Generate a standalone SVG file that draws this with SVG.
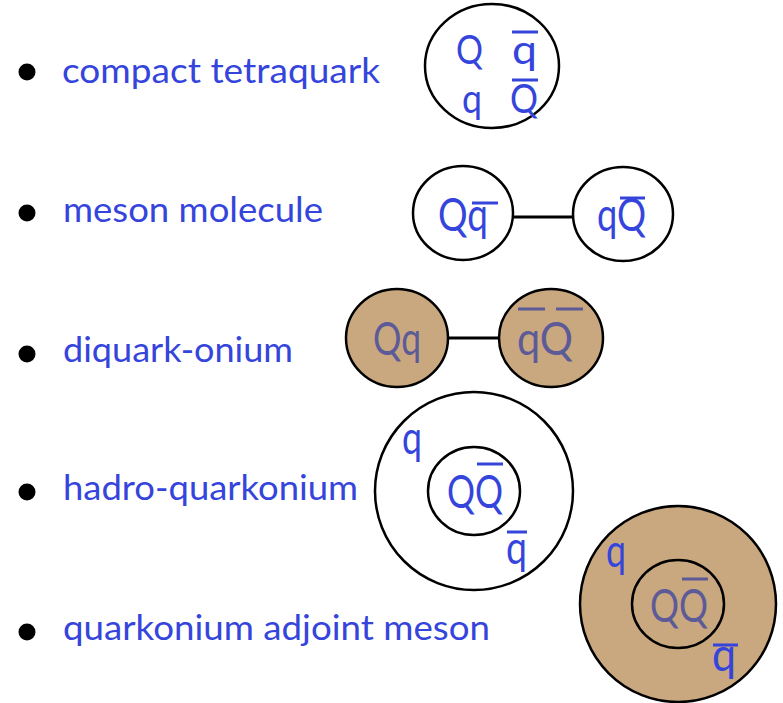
<svg xmlns="http://www.w3.org/2000/svg" width="783" height="703" viewBox="0 0 783 703">
<style>
.lbl{font-family:Lato,"Liberation Sans",sans-serif;font-size:34px;fill:#3545dc}
.qk{font-family:Lato,"Liberation Sans",sans-serif;font-size:47px;fill:#3545dc}
.qd{font-family:Lato,"Liberation Sans",sans-serif;font-size:47px;fill:#5d5a98}
.tq{font-size:41px}
.c{fill:#fff;stroke:#000;stroke-width:2.5}
.t{fill:#c9a87f;stroke:#000;stroke-width:2.5}
.ob{stroke:#3545dc;stroke-width:3}
.od{stroke:#5d5a98;stroke-width:3}
.ln{stroke:#000;stroke-width:3}
</style>
<rect width="783" height="703" fill="#fff"/>
<g id="bullets" fill="#000">
<circle cx="27" cy="72" r="8.5"/>
<circle cx="27" cy="213" r="8.5"/>
<circle cx="27" cy="354" r="8.5"/>
<circle cx="27" cy="492" r="8.5"/>
<circle cx="27" cy="632" r="8.5"/>
</g>
<g id="labels">
<text class="lbl" x="62" y="83" textLength="318" lengthAdjust="spacingAndGlyphs">compact tetraquark</text>
<text class="lbl" x="63" y="222" textLength="260" lengthAdjust="spacingAndGlyphs">meson molecule</text>
<text class="lbl" x="63" y="362" textLength="230" lengthAdjust="spacingAndGlyphs">diquark-onium</text>
<text class="lbl" x="63" y="500" textLength="295" lengthAdjust="spacingAndGlyphs">hadro-quarkonium</text>
<text class="lbl" x="63" y="640" textLength="427" lengthAdjust="spacingAndGlyphs">quarkonium adjoint meson</text>
</g>
<g id="connectors">
<line class="ln" x1="514" y1="217" x2="573" y2="217"/>
<line class="ln" x1="448" y1="338" x2="499" y2="338"/>
</g>
<g id="tetraquark">
<ellipse class="c" cx="492" cy="66" rx="67" ry="62"/>
<text class="qk tq" x="456" y="64" textLength="27" lengthAdjust="spacingAndGlyphs">Q</text>
<text class="qk tq" x="512" y="64" textLength="25" lengthAdjust="spacingAndGlyphs">q</text>
<line class="ob" x1="512" y1="32" x2="538" y2="32"/>
<text class="qk tq" x="462" y="113" textLength="20" lengthAdjust="spacingAndGlyphs">q</text>
<text class="qk tq" x="510" y="113" textLength="28" lengthAdjust="spacingAndGlyphs">Q</text>
<line class="ob" x1="512" y1="80" x2="538" y2="80"/>
</g>
<g id="molecule-left">
<ellipse class="c" cx="463" cy="213" rx="50" ry="47"/>
<text class="qk" x="438" y="231" textLength="50" lengthAdjust="spacingAndGlyphs">Qq</text>
<line class="ob" x1="472" y1="203" x2="498" y2="203"/>
</g>
<g id="molecule-right">
<ellipse class="c" cx="623" cy="214" rx="50" ry="47"/>
<text class="qk" x="597" y="231" textLength="49" lengthAdjust="spacingAndGlyphs">qQ</text>
<line class="ob" x1="620" y1="198" x2="645" y2="198"/>
</g>
<g id="diquark-left">
<ellipse class="t" cx="397" cy="338" rx="51" ry="49"/>
<text class="qd" x="373" y="355" textLength="48" lengthAdjust="spacingAndGlyphs">Qq</text>
</g>
<g id="diquark-right">
<ellipse class="t" cx="551" cy="338" rx="52" ry="49"/>
<text class="qd" x="517" y="355" textLength="56" lengthAdjust="spacingAndGlyphs">qQ</text>
<line class="od" x1="518" y1="309" x2="545" y2="309"/>
<line class="od" x1="556" y1="309" x2="583" y2="309"/>
</g>
<g id="hadro-quarkonium">
<circle class="c" cx="474" cy="491" r="99"/>
<ellipse class="c" cx="474" cy="491" rx="46" ry="44"/>
<text class="qk" x="447" y="508" textLength="56" lengthAdjust="spacingAndGlyphs">QQ</text>
<line class="ob" x1="477" y1="464" x2="503" y2="464"/>
<text class="qk" x="402" y="454" textLength="20" lengthAdjust="spacingAndGlyphs">q</text>
<text class="qk" x="506" y="564" textLength="21" lengthAdjust="spacingAndGlyphs">q</text>
<line class="ob" x1="507" y1="532" x2="527" y2="532"/>
</g>
<g id="adjoint-meson">
<circle class="t" cx="678" cy="604" r="98"/>
<ellipse class="t" cx="678" cy="604" rx="46" ry="44"/>
<text class="qd" x="650" y="622" textLength="58" lengthAdjust="spacingAndGlyphs">QQ</text>
<line class="od" x1="682" y1="579" x2="708" y2="579"/>
<text class="qk" x="606" y="567" textLength="20" lengthAdjust="spacingAndGlyphs">q</text>
<text class="qk" x="712" y="671" textLength="24" lengthAdjust="spacingAndGlyphs">q</text>
<line class="ob" x1="713" y1="645" x2="738" y2="645"/>
</g>
</svg>
